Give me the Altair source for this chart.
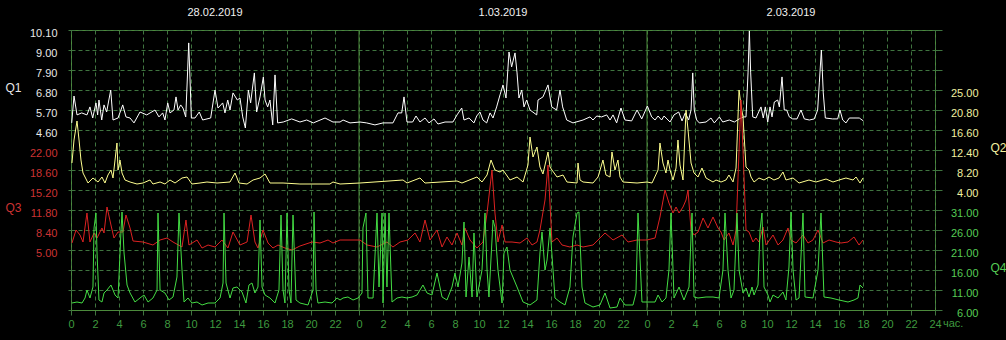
import altair as alt
import pandas as pd

# ---------------- data (hour since start of 28.02.2019, value) ----------------
q1 = [(0.06,4.99),(0.25,6.47),(0.5,5.43),(0.89,5.54),(1.33,5.43),(1.58,5.87),(1.81,5.26),(2.08,6.09),(2.22,5.43),(2.33,6.25),
      (2.56,5.15),(2.75,5.98),(2.97,5.59),(3.31,6.80),(3.5,5.15),(3.92,5.26),(4.31,5.98),(4.58,5.32),(4.92,5.26),(5.25,4.99),
      (5.75,5.59),(6.31,5.43),(7.0,5.70),(7.33,5.32),(7.64,5.54),(7.83,5.15),(8.06,6.09),(8.25,5.54),(8.58,5.70),(8.75,6.42),
      (8.92,5.70),(9.14,5.98),(9.33,5.81),(9.56,5.32),(9.69,7.35),(9.81,9.39),(9.92,7.35),(10.03,5.26),(10.33,5.26),(10.69,5.59),
      (10.97,5.15),(11.64,5.26),(12.0,6.80),(12.25,5.81),(12.64,6.09),(12.83,5.54),(13.06,6.25),(13.25,5.70),(13.5,6.64),(13.86,6.25),
      (14.08,6.36),(14.31,5.32),(14.53,4.71),(14.78,6.80),(14.97,6.09),(15.28,7.74),(15.47,5.59),(15.75,6.42),(16.03,7.52),(16.17,6.25),
      (16.39,5.87),(16.58,6.25),(16.81,4.88),(17.0,7.63),(17.22,4.99),(17.69,5.04),(18.39,5.21),(19.08,5.04),(19.64,5.15),(20.19,4.99),
      (21.17,5.26),(21.83,5.04),(22.42,5.04),
      (22.67,5.15),(23.25,4.99),(24.08,5.04),(24.64,4.99),(25.33,4.88),(26.0,4.99),(26.83,4.99),(27.25,5.54),(27.56,5.54),(27.75,6.42),
      (28.0,5.04),(28.47,5.04),(28.75,5.37),(29.08,5.04),(29.5,5.26),(29.83,4.99),(30.25,5.21),(30.58,4.93),(31.17,5.04),(31.83,5.04),
      (32.17,5.43),(32.56,5.81),(32.75,5.15),(33.17,5.26),(33.58,4.99),(33.81,5.37),(34.08,5.59),(34.33,5.15),(34.64,4.99),(34.92,5.54),
      (35.17,5.26),(35.47,5.87),(35.75,6.53),(36.0,7.08),(36.25,6.36),(36.5,8.89),(36.72,8.07),(37.0,8.84),(37.17,7.74),(37.33,6.36),
      (37.56,6.80),(37.75,5.87),(37.97,6.25),(38.25,5.70),(38.81,5.43),(38.92,6.25),(39.33,6.42),(39.75,7.08),(40.06,5.87),(40.47,5.70),
      (40.75,6.80),(40.97,5.87),(41.31,5.15),(41.83,4.99),(42.67,5.15),(43.25,5.32),(43.5,5.15),(43.81,5.37),(44.22,5.32),(44.64,5.43),
      (44.92,5.15),(45.17,5.43),(45.47,4.99),(45.83,5.81),(46.17,5.15),(46.72,5.10),(47.17,5.70),(47.56,5.21),(48.03,5.92),(48.39,5.32),
      (48.67,5.15),(48.92,5.37),(49.22,5.15),(49.42,5.37),
      (49.92,5.04),(50.25,5.43),(50.64,5.59),(50.92,5.10),(51.19,5.54),(51.47,5.15),(51.67,5.70),(51.81,7.74),(51.94,5.70),(52.14,5.15),
      (52.36,4.99),(52.92,5.04),(53.33,5.26),(53.61,4.99),(54.03,5.32),(54.31,5.04),(54.86,5.15),(55.28,5.04),(55.69,5.21),(56.03,5.32),
      (56.25,5.32),(56.42,7.74),(56.53,10.05),(56.64,7.74),(56.81,5.32),(57.08,5.26),(57.5,5.87),(57.69,5.26),(57.86,5.87),(58.06,5.04),
      (58.25,5.87),(58.42,5.32),(58.61,6.14),(58.89,6.25),(59.03,5.87),(59.25,7.52),(59.44,5.70),(59.64,5.70),(59.86,5.32),(60.14,5.21),
      (60.5,5.21),(60.83,5.70),(61.11,5.21),(61.53,5.15),(61.94,5.21),(62.22,5.70),(62.36,7.19),(62.53,9.0),(62.69,6.64),(62.86,5.26),
      (63.47,5.21),(63.89,5.21),(64.08,5.70),(64.31,5.15),(64.58,4.99),(64.86,5.26),(65.69,5.26),(66.03,5.10)]

q2 = [(0.08,9.67),(0.25,14.5),(0.5,18.49),(0.67,14.5),(0.83,10.3),(1.0,7.57),(1.42,5.47),(1.83,6.52),(2.25,5.68),(2.58,6.73),
      (2.83,5.47),(3.08,7.15),(3.33,8.2),(3.5,6.52),(3.67,10.3),(3.83,13.87),(3.92,8.2),(4.08,10.3),(4.25,7.57),(4.5,6.1),
      (4.92,5.68),(5.5,5.26),(6.0,5.47),(6.58,6.1),(6.83,5.26),(7.42,5.68),(7.83,5.26),(8.25,6.1),(8.67,5.47),(9.25,6.52),
      (9.67,6.73),(10.08,5.26),(10.75,5.47),(11.33,5.68),(12.17,5.47),(13.25,5.68),(13.67,7.57),(14.0,5.47),(14.67,5.26),(15.17,6.1),
      (15.75,6.52),(16.17,7.36),(16.58,5.47),(17.67,5.47),(19.08,5.26),(20.5,5.26),(21.58,5.26),(21.83,5.68),(22.42,5.26),(24.08,5.47),
      (27.67,6.1),(28.0,5.47),(29.08,6.52),(29.5,5.47),(32.17,5.89),(32.58,5.47),(33.83,6.73),(34.25,5.68),(34.67,7.15),(35.0,10.3),
      (35.33,8.2),(35.75,7.78),(36.0,8.2),(36.58,6.1),(37.17,6.73),(37.67,5.68),(38.08,9.25),(38.25,15.13),(38.5,10.93),(38.83,13.03),
      (39.08,8.83),(39.33,7.36),(39.75,11.98),(39.92,8.83),(40.08,8.2),(40.5,6.73),(41.0,7.15),(41.33,5.68),(42.17,5.47),(42.25,9.67),
      (42.42,6.1),(42.67,5.68),(43.5,5.47),(43.92,6.73),(44.33,10.3),(44.58,7.15),(44.92,6.73),(45.08,11.98),(45.33,8.2),(45.58,10.3),
      (45.75,6.73),(46.0,5.68),(47.17,5.47),(48.0,5.68),(48.42,5.47),(48.92,8.2),(49.08,13.87),(49.33,9.67),(49.58,7.57),(49.75,10.3),
      (49.92,8.2),(50.17,6.1),(50.42,8.62),(50.58,14.5),(50.75,9.25),(51.0,6.1),(51.25,20.8),(51.42,16.6),(51.67,9.67),(51.92,7.57),
      (52.25,6.73),(52.58,8.62),(52.92,6.52),(53.5,5.68),(53.75,6.1),(54.17,5.68),(54.58,6.1),(54.83,7.15),(55.17,5.68),(55.42,8.62),
      (55.67,25.0),(55.83,21.85),(56.0,19.33),(56.25,8.83),(56.5,8.2),(56.67,6.73),(56.92,5.68),(57.33,6.52),(57.75,6.1),(58.17,6.73),
      (58.58,6.1),(59.0,6.52),(59.33,7.78),(59.58,6.1),(60.17,6.52),(60.67,5.47),(61.5,6.1),(62.08,5.68),(62.92,6.31),(63.5,5.68),
      (64.0,6.1),(64.58,6.52),(65.17,6.1),(65.42,6.73),(65.75,5.47),(66.0,6.52)]

q3 = [(0.08,6.19),(0.42,8.4),(0.75,7.55),(1.0,6.36),(1.33,11.29),(1.58,6.36),(1.92,7.89),(2.17,7.04),(2.58,8.74),(2.75,7.89),
      (3.0,12.31),(3.33,9.25),(3.58,7.04),(3.92,8.06),(4.33,8.06),(4.58,10.95),(4.92,8.74),(5.17,6.53),(6.0,6.36),(6.83,5.85),
      (7.42,6.7),(8.0,7.04),(8.5,6.36),(9.25,5.51),(9.58,10.1),(9.83,5.85),(10.5,6.7),(10.92,5.34),(11.42,5.85),(12.0,5.51),
      (12.58,6.7),(13.08,5.34),(13.5,8.06),(14.08,5.85),(14.67,6.36),(15.0,10.95),(15.33,6.36),(15.58,5.34),(16.0,8.4),(16.42,6.19),
      (16.83,5.34),(17.25,5.85),(17.83,5.34),(18.42,5.0),(19.08,5.68),(20.08,6.36),(20.75,6.19),(21.42,6.7),(21.83,6.19),(22.42,6.7),
      (23.5,6.7),(24.08,6.7),(24.67,5.85),(25.5,5.51),(26.33,6.36),(26.83,5.51),(27.42,6.36),(28.08,6.7),(28.67,7.89),(29.08,6.36),
      (29.5,10.1),(29.92,6.7),(30.5,8.4),(30.92,5.51),(31.33,7.21),(31.75,5.85),(32.17,7.89),(32.58,5.85),(32.83,8.74),(33.25,6.7),
      (33.83,5.34),(34.33,6.36),(34.67,11.29),(35.08,18.6),(35.33,11.29),(35.58,6.36),(35.92,9.25),(36.17,6.36),(36.75,6.36),(37.42,6.19),
      (38.0,7.04),(38.42,5.85),(38.83,6.36),(39.08,8.4),(39.5,13.5),(39.75,19.45),(40.08,6.36),(40.5,7.04),(40.92,5.85),(41.58,5.51),
      (42.17,5.85),(42.67,5.51),(43.5,5.85),(44.08,7.04),(44.5,7.89),(45.17,6.7),(45.92,7.55),(46.42,6.36),(47.17,6.7),(48.0,6.7),
      (48.67,7.04),(49.08,10.61),(49.5,15.2),(49.83,12.99),(50.17,11.29),(50.42,12.31),(50.67,11.29),(51.0,12.31),(51.25,13.5),(51.42,15.2),
      (51.67,8.4),(51.92,7.55),(52.25,8.06),(52.67,10.44),(53.08,8.74),(53.5,10.61),(53.92,8.74),(54.17,8.06),(54.42,6.7),(54.83,7.89),
      (55.17,5.85),(55.42,8.4),(55.83,30.5),(56.0,22.0),(56.25,8.4),(56.5,8.06),(56.83,6.36),(57.08,7.04),(57.33,6.36),(57.67,8.91),
      (57.92,5.85),(58.5,7.55),(58.92,5.85),(59.33,6.7),(59.75,8.74),(60.0,6.7),(60.42,6.19),(61.0,7.55),(61.42,6.19),(61.83,6.7),
      (62.25,8.4),(62.67,6.19),(63.17,6.7),(63.75,6.36),(64.17,6.19),(64.75,6.36),(65.25,7.21),(65.67,5.85),(66.0,6.7)]

q4 = [(0.08,7.75),(0.5,8.0),(0.92,7.75),(1.17,9.0),(1.33,11.0),(1.58,9.0),(1.83,11.75),(1.92,26.5),(2.08,30.25),(2.17,20.25),
      (2.33,8.5),(2.58,8.0),(2.75,10.25),(3.0,11.0),(3.33,12.25),(3.67,9.75),(3.92,9.0),(4.17,26.0),(4.25,30.5),(4.42,20.25),
      (4.67,12.25),(4.92,10.25),(5.33,8.0),(5.75,9.0),(6.08,9.75),(6.42,8.0),(6.83,9.0),(7.17,11.0),(7.25,30.25),(7.42,11.0),
      (7.83,10.25),(8.17,8.5),(8.5,9.25),(8.83,14.25),(9.0,30.25),(9.25,16.0),(9.42,8.0),(9.75,9.0),(10.08,7.75),(10.5,8.0),
      (10.92,7.25),(11.42,7.75),(12.0,7.75),(12.42,9.0),(12.67,12.75),(12.75,30.25),(12.92,12.75),(13.25,9.0),(13.5,11.5),(13.83,11.75),
      (14.25,10.5),(14.58,7.75),(14.83,12.25),(15.08,12.75),(15.33,10.25),(15.58,11.75),(15.75,28.5),(15.92,11.75),(16.17,9.75),(16.58,9.0),
      (17.0,7.75),(17.33,11.0),(17.5,29.75),(17.67,11.0),(17.83,7.75),(18.0,30.25),(18.17,11.0),(18.33,7.75),(18.5,29.75),(18.75,8.5),
      (19.08,7.75),(19.75,7.25),(20.17,11.0),(20.25,30.5),(20.42,11.0),(20.58,7.75),(21.17,8.0),(21.75,7.75),(22.17,9.0),(22.42,8.5),
      (22.67,9.0),(23.08,9.25),(23.5,8.5),(23.92,9.0),(24.25,10.25),(24.33,26.5),(24.58,30.25),(24.75,9.0),(25.17,9.0),(25.5,30.25),
      (25.67,11.75),(25.92,30.25),(26.0,7.75),(26.17,30.25),(26.33,11.75),(26.5,30.25),(26.75,8.0),(27.17,9.0),(27.58,9.25),(28.0,9.0),
      (28.42,9.25),(28.83,9.75),(29.33,12.25),(29.67,10.25),(30.08,9.75),(30.5,15.25),(30.92,9.25),(31.33,8.5),(31.75,11.75),(32.0,15.25),
      (32.25,11.75),(32.58,17.75),(32.75,28.0),(32.92,9.25),(33.17,19.25),(33.42,9.25),(33.58,25.25),(33.83,9.25),(34.25,16.0),(34.5,30.25),
      (34.67,16.0),(34.83,9.25),(35.17,28.5),(35.33,26.75),(35.58,16.0),(35.92,7.75),(36.08,20.25),(36.33,21.75),(36.58,16.0),(37.17,11.75),
      (37.67,8.0),(38.25,7.25),(38.83,8.5),(39.08,20.25),(39.25,25.5),(39.5,16.0),(39.67,18.5),(39.92,26.5),(40.17,16.0),(40.33,9.0),
      (40.75,8.0),(41.17,7.25),(41.58,11.75),(41.83,24.25),(42.17,30.25),(42.33,30.5),(42.58,11.75),(42.83,7.75),(43.5,6.75),(44.08,7.25),
      (44.5,10.25),(44.92,6.5),(45.5,6.75),(45.75,9.0),(46.17,7.25),(46.83,7.25),(47.08,10.25),(47.25,30.25),(47.58,8.0),(48.0,8.0),
      (48.67,8.0),(48.92,9.75),(49.25,8.0),(49.58,9.0),(49.83,16.0),(50.0,30.25),(50.17,16.0),(50.25,9.0),(50.67,11.75),(51.08,8.5),
      (51.5,11.75),(51.75,30.25),(51.92,9.25),(52.25,9.0),(52.92,9.25),(53.5,9.25),(54.0,9.0),(54.33,16.0),(54.5,30.25),(54.75,16.0),
      (55.0,9.0),(55.25,11.0),(55.5,30.25),(55.67,16.0),(56.0,10.25),(56.25,11.5),(56.5,9.25),(56.75,11.75),(56.92,9.75),(57.25,12.25),
      (57.42,26.0),(57.58,30.25),(57.75,11.75),(58.08,9.75),(58.25,8.0),(58.5,9.75),(58.92,9.0),(59.33,10.5),(59.58,8.5),(59.83,16.75),
      (60.0,30.5),(60.17,16.0),(60.42,8.5),(60.67,9.0),(61.0,30.25),(61.17,9.25),(61.83,9.0),(62.25,16.0),(62.5,30.25),(62.75,9.25),
      (63.33,9.0),(64.0,8.5),(64.75,8.0),(65.25,8.5),(65.58,9.0),(65.75,12.25),(66.0,11.5)]

dates = ["28.02.2019", "1.03.2019", "2.03.2019"]
date_hours = [12, 36, 60]
day_bounds = [24, 48]
hour_ticks = list(range(0, 73, 2))

q1_labels = [4.6, 5.7, 6.8, 7.9, 9.0, 10.1]
q3_labels = [5.0, 8.4, 11.8, 15.2, 18.6, 22.0]
q2_labels = [4.0, 8.2, 12.4, 16.6, 20.8, 25.0]
q4_labels = [6.0, 11.0, 16.0, 21.0, 26.0, 31.0]
q1_grid = [round(10.1 - 1.1 * k, 2) for k in range(15)]
q4_grid = [6 + 5 * k for k in range(15)]

# ---------------- styling ----------------
FONT = "Liberation Sans"
FRAME = "#4c8a3c"
GRID = "#3f743f"
XLAB = "#3f9a3f"
C1, C2, C3, C4 = "#ffffff", "#ffff90", "#dd2222", "#44dd44"
L1, L2, L3, L4 = "#e8e8e8", "#f0f0a0", "#cc3333", "#55cc55"

def frame(pairs):
    return pd.DataFrame(pairs, columns=["h", "v"])

x_enc = alt.X(
    "h:Q",
    scale=alt.Scale(domain=[0, 72], nice=False, zero=False),
    axis=alt.Axis(
        values=hour_ticks, title=None,
        labelExpr="datum.value == 72 ? '24' : toString(datum.value % 24)",
        grid=True, gridColor=GRID, gridDash=[4, 3], gridWidth=1,
        domain=True, domainColor=FRAME, ticks=True, tickColor=GRID, tickSize=5,
        labelColor=XLAB, labelFont=FONT, labelFontSize=11, labelPadding=3,
        labelFlush=False, labelOverlap=False,
    ),
)

def fmt_expr(lo, hi):
    return f"datum.value >= {lo} && datum.value <= {hi} ? format(datum.value, '.2f') : ''"

ax1 = alt.Axis(orient="left", values=q1_grid, labelExpr=fmt_expr(min(q1_labels) - 0.01, max(q1_labels) + 0.01),
               grid=True, gridColor=GRID, gridDash=[4, 3], domain=False, ticks=True, tickSize=3, tickColor=GRID,
               labelColor=L1, labelFont=FONT, labelFontSize=11, labelPadding=11, labelOffset=3, labelOverlap=False,
               title="Q1", titleAngle=0, titleX=-58, titleY=57, titleAlign="center", titleBaseline="middle",
               titleColor=L1, titleFont=FONT, titleFontSize=12, titleFontWeight="normal")
ax3 = alt.Axis(orient="left", values=q3_labels, format=".2f", grid=False, domain=False, ticks=False,
               labelColor=L3, labelFont=FONT, labelFontSize=11, labelPadding=14, labelOffset=3, labelOverlap=False,
               title="Q3", titleAngle=0, titleX=-58, titleY=177, titleAlign="center", titleBaseline="middle",
               titleColor=L3, titleFont=FONT, titleFontSize=12, titleFontWeight="normal")
ax2 = alt.Axis(orient="right", values=q2_labels, format=".2f", grid=False, domain=False, ticks=False,
               labelColor=L2, labelFont=FONT, labelFontSize=11, labelPadding=43, labelOffset=3, labelAlign="right",
               labelOverlap=False,
               title="Q2", titleAngle=0, titleX=63, titleY=117, titleAlign="center", titleBaseline="middle",
               titleColor=L2, titleFont=FONT, titleFontSize=12, titleFontWeight="normal")
ax4 = alt.Axis(orient="right", values=q4_grid, labelExpr=fmt_expr(min(q4_labels) - 0.01, max(q4_labels) + 0.01),
               grid=False, domain=False, ticks=True, tickSize=7, tickColor=GRID,
               labelColor=L4, labelFont=FONT, labelFontSize=11, labelPadding=36, labelOffset=3, labelAlign="right",
               labelOverlap=False,
               title="Q4", titleAngle=0, titleX=63, titleY=237, titleAlign="center", titleBaseline="middle",
               titleColor=L4, titleFont=FONT, titleFontSize=12, titleFontWeight="normal")

line1 = alt.Chart(frame(q1)).mark_line(color=C1, strokeWidth=1).encode(
    x=x_enc, y=alt.Y("v:Q", scale=alt.Scale(domain=[-5.3, 10.1], nice=False, zero=False), axis=ax1))
line2 = alt.Chart(frame(q2)).mark_line(color=C2, strokeWidth=1).encode(
    x=x_enc, y=alt.Y("v:Q", scale=alt.Scale(domain=[-21.2, 37.6], nice=False, zero=False), axis=ax2))
line3 = alt.Chart(frame(q3)).mark_line(color=C3, strokeWidth=1).encode(
    x=x_enc, y=alt.Y("v:Q", scale=alt.Scale(domain=[-5.2, 42.4], nice=False, zero=False), axis=ax3))
line4 = alt.Chart(frame(q4)).mark_line(color=C4, strokeWidth=1).encode(
    x=x_enc, y=alt.Y("v:Q", scale=alt.Scale(domain=[6, 76], nice=False, zero=False), axis=ax4))

days = alt.Chart(pd.DataFrame({"h": day_bounds})).mark_rule(color=FRAME, strokeWidth=1).encode(x=x_enc)

date_text = alt.Chart(pd.DataFrame({"h": date_hours, "d": dates})).mark_text(
    color="#f0f0f0", font=FONT, fontSize=11, baseline="middle", align="center").encode(
    x=x_enc, y=alt.value(-17), text="d:N")

unit_text = alt.Chart(pd.DataFrame({"h": [72], "t": ["час."]})).mark_text(
    color=XLAB, font=FONT, fontSize=11, baseline="top", align="left", dx=8).encode(
    x=x_enc, y=alt.value(288), text="t:N")

chart = alt.layer(days, line1, line2, line3, line4, date_text, unit_text).resolve_scale(
    y="independent"
).properties(
    width=864, height=280,
    autosize=alt.AutoSizeParams(type="none"),
    padding={"left": 71, "top": 30, "right": 71, "bottom": 30},
).configure(background="black").configure_view(stroke=FRAME, strokeWidth=1)

chart.save("out.html", embed_options={"renderer": "svg", "actions": False})
